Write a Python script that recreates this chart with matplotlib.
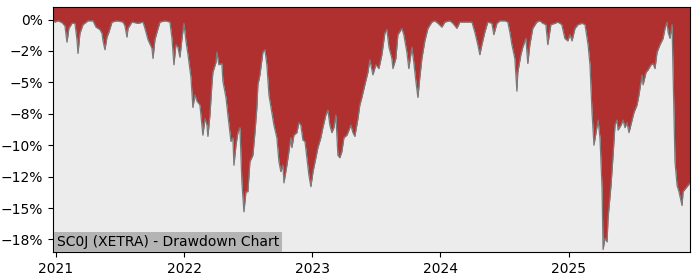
import matplotlib
matplotlib.use("Agg")
import matplotlib.pyplot as plt
import matplotlib.dates as mdates
from matplotlib.ticker import FuncFormatter
import numpy as np
import pandas as pd

# time as decimal year, drawdown in percent
years = [
    2020.977, 2020.992, 2021.016, 2021.047, 2021.070, 2021.086, 2021.101, 2021.125,
    2021.148, 2021.164, 2021.172, 2021.187, 2021.211, 2021.250, 2021.289, 2021.312,
    2021.343, 2021.359, 2021.367, 2021.382, 2021.398, 2021.413, 2021.437, 2021.476,
    2021.523, 2021.538, 2021.554, 2021.562, 2021.593, 2021.640, 2021.679, 2021.694,
    2021.718, 2021.749, 2021.757, 2021.772, 2021.788, 2021.811, 2021.850, 2021.889,
    2021.905, 2021.920, 2021.936, 2021.951, 2021.967, 2021.983, 2021.998,
    2022.014, 2022.030, 2022.053, 2022.068, 2022.084, 2022.100, 2022.123, 2022.146,
    2022.162, 2022.178, 2022.185, 2022.201, 2022.216, 2022.224, 2022.248, 2022.255,
    2022.271, 2022.294, 2022.302, 2022.326, 2022.341, 2022.365, 2022.380, 2022.388,
    2022.404, 2022.419, 2022.435, 2022.450, 2022.466, 2022.482, 2022.497, 2022.513,
    2022.536, 2022.552, 2022.567, 2022.575, 2022.591, 2022.606, 2022.614, 2022.630,
    2022.645, 2022.661, 2022.669, 2022.684, 2022.700, 2022.723, 2022.739, 2022.754,
    2022.770, 2022.778, 2022.801, 2022.817, 2022.832, 2022.840, 2022.856, 2022.879,
    2022.895, 2022.910, 2022.926, 2022.942, 2022.957, 2022.973, 2022.988,
    2023.005, 2023.027, 2023.043, 2023.066, 2023.082, 2023.105, 2023.121, 2023.136,
    2023.152, 2023.168, 2023.183, 2023.199, 2023.214, 2023.230, 2023.246, 2023.269,
    2023.285, 2023.300, 2023.316, 2023.331, 2023.355, 2023.370, 2023.386, 2023.409,
    2023.433, 2023.448, 2023.472, 2023.495, 2023.519, 2023.542, 2023.565, 2023.581,
    2023.597, 2023.620, 2023.628, 2023.651, 2023.667, 2023.698, 2023.713, 2023.737,
    2023.752, 2023.776, 2023.791, 2023.807, 2023.823, 2023.838, 2023.854, 2023.877,
    2023.901, 2023.932, 2023.955, 2023.979,
    2024.010, 2024.033, 2024.072, 2024.096, 2024.127, 2024.150, 2024.205, 2024.244,
    2024.267, 2024.290, 2024.306, 2024.322, 2024.345, 2024.368, 2024.400, 2024.415,
    2024.439, 2024.462, 2024.501, 2024.524, 2024.540, 2024.556, 2024.579, 2024.595,
    2024.602, 2024.626, 2024.641, 2024.665, 2024.680, 2024.696, 2024.719, 2024.750,
    2024.774, 2024.797, 2024.821, 2024.836, 2024.860, 2024.891, 2024.914, 2024.945,
    2024.969, 2024.992,
    2025.009, 2025.025, 2025.048, 2025.072, 2025.103, 2025.126, 2025.150, 2025.165,
    2025.181, 2025.196, 2025.212, 2025.228, 2025.243, 2025.259, 2025.267, 2025.282,
    2025.298, 2025.306, 2025.329, 2025.345, 2025.360, 2025.376, 2025.384, 2025.407,
    2025.423, 2025.438, 2025.454, 2025.469, 2025.493, 2025.508, 2025.532, 2025.547,
    2025.571, 2025.579, 2025.602, 2025.618, 2025.641, 2025.657, 2025.672, 2025.688,
    2025.711, 2025.735, 2025.750, 2025.766, 2025.774, 2025.789, 2025.805, 2025.813,
    2025.828, 2025.844, 2025.859, 2025.883, 2025.891, 2025.914, 2025.930, 2025.945,
]
drawdown = [
    -0.1, -0.2, -0.1, -0.25, -0.5, -1.8, -0.7, -0.3,
    -0.3, -1.6, -2.7, -1.1, -0.4, -0.1, -0.1, -0.6,
    -0.8, -1.1, -1.7, -2.4, -1.4, -1.0, -0.2, -0.1,
    -0.2, -0.5, -1.4, -0.7, -0.2, -0.3, -0.2, -0.7,
    -1.6, -2.3, -3.1, -1.6, -1.0, -0.2, -0.1, -0.2,
    -1.5, -3.6, -2.0, -2.2, -3.0, -1.5, -0.3,
    -1.7, -2.8, -4.6, -7.0, -6.0, -6.5, -6.8, -9.2,
    -7.9, -8.4, -9.3, -7.6, -5.2, -4.2, -3.4, -2.6,
    -3.6, -3.5, -4.9, -6.2, -7.6, -9.7, -9.4, -11.6,
    -10.0, -9.0, -8.6, -12.9, -15.3, -13.7, -13.7, -11.3,
    -10.8, -9.0, -7.0, -5.2, -4.4, -3.2, -2.6, -2.4,
    -3.6, -6.0, -6.5, -7.4, -8.4, -9.4, -11.3, -12.1,
    -11.6, -13.0, -11.6, -10.5, -9.4, -10.2, -9.2, -9.0,
    -8.2, -8.4, -9.6, -9.7, -11.0, -12.4, -13.3,
    -12.1, -11.0, -10.2, -9.4, -8.6, -7.6, -7.2, -8.4,
    -9.0, -8.6, -7.6, -10.8, -11.0, -10.5, -9.4, -9.2,
    -8.8, -8.4, -9.0, -9.3, -7.9, -6.8, -6.2, -5.2,
    -4.2, -3.2, -4.4, -3.6, -3.9, -2.8, -1.1, -0.8,
    -2.2, -3.1, -3.9, -3.1, -1.2, -0.7, -1.2, -2.6,
    -3.9, -2.2, -3.4, -4.9, -6.2, -4.6, -3.1, -1.7,
    -0.7, -0.2, -0.1, -0.3,
    -0.6, -0.2, -0.1, -0.3, -0.7, -0.2, -0.2, -0.2,
    -1.0, -2.0, -2.8, -2.0, -1.0, -0.2, -0.3, -1.2,
    -0.3, -0.1, -0.1, -0.2, -1.0, -2.0, -3.1, -5.7,
    -4.2, -2.8, -2.2, -1.5, -3.5, -2.0, -0.7, -0.2,
    -0.1, -0.3, -0.4, -2.0, -0.4, -0.3, -0.2, -0.4,
    -1.5, -1.7,
    -1.2, -1.7, -0.7, -0.4, -0.3, -0.4, -2.0, -3.6,
    -7.4, -10.0, -9.0, -8.0, -9.4, -13.4, -18.3, -17.4,
    -17.7, -15.8, -13.2, -10.8, -8.4, -8.0, -8.8, -8.4,
    -8.0, -8.6, -8.2, -9.0, -8.0, -7.4, -6.8, -6.0,
    -4.4, -5.2, -4.2, -4.0, -3.6, -3.5, -3.9, -2.6,
    -2.0, -1.5, -0.7, -0.2, -1.0, -1.5, -0.4, -4.2,
    -11.3, -13.2, -13.7, -14.8, -13.7, -13.4, -13.2, -13.0,
]
title = "SC0J (XETRA) - Drawdown Chart"

yrs = np.array(years)
dates = pd.Timestamp("2021-01-01") + pd.to_timedelta((yrs - 2021) * 365.25, unit="D")
dd = np.array(drawdown)

fig = plt.figure(figsize=(7, 2.8), dpi=100)
ax = fig.add_axes([0.0757, 0.1, 0.91, 0.875])
ax.set_facecolor("#ececec")

ytop = 1.0
ax.fill_between(dates, dd, ytop, color="#b03030", lw=0)
ax.plot(dates, dd, color="#7a7a7a", lw=0.9)

ax.set_ylim(-18.5, ytop)
ax.set_xlim(dates[0], dates[-1])
ax.set_yticks(np.arange(0, -18, -2.5))
ax.yaxis.set_major_formatter(FuncFormatter(lambda v, p: f"{v:.0f}%".replace("-", "\u2212")))
ax.xaxis.set_major_locator(mdates.YearLocator())
ax.xaxis.set_major_formatter(mdates.DateFormatter("%Y"))
ax.tick_params(labelsize=10)

ax.text(0.006, 0.012, title, transform=ax.transAxes, fontsize=10,
        ha="left", va="bottom",
        bbox=dict(facecolor="#b4b4b4", edgecolor="none", pad=2))

fig.savefig("out.png", dpi=100)
